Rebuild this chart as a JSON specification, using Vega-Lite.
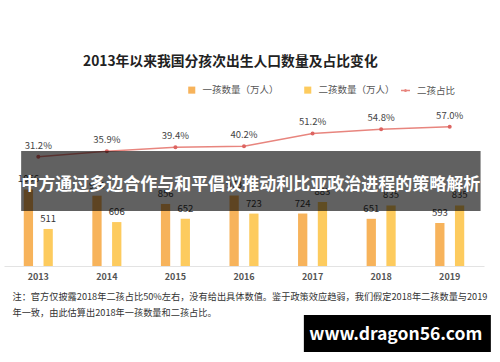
{
  "$schema": "https://vega.github.io/schema/vega-lite/v6.json",
  "width": 480,
  "height": 166,
  "autosize": {"type": "none"},
  "padding": {"left": 4, "top": 100, "right": 16, "bottom": 96},
  "background": "white",
  "config": {"font": "Noto Sans CJK SC", "view": {"stroke": null}},
  "title": {
    "text": "2013年以来我国分孩次出生人口数量及占比变化",
    "anchor": "start",
    "dx": 79,
    "offset": 16,
    "fontSize": 13.8,
    "fontWeight": "bold",
    "color": "#222222"
  },
  "datasets": {
    "bars": [
      {"year": "2013", "series": "一孩数量（万人）", "value": 1056},
      {"year": "2013", "series": "二孩数量（万人）", "value": 511},
      {"year": "2014", "series": "一孩数量（万人）", "value": 970},
      {"year": "2014", "series": "二孩数量（万人）", "value": 606},
      {"year": "2015", "series": "一孩数量（万人）", "value": 856},
      {"year": "2015", "series": "二孩数量（万人）", "value": 652},
      {"year": "2016", "series": "一孩数量（万人）", "value": 973},
      {"year": "2016", "series": "二孩数量（万人）", "value": 723},
      {"year": "2017", "series": "一孩数量（万人）", "value": 724},
      {"year": "2017", "series": "二孩数量（万人）", "value": 883},
      {"year": "2018", "series": "一孩数量（万人）", "value": 651},
      {"year": "2018", "series": "二孩数量（万人）", "value": 835},
      {"year": "2019", "series": "一孩数量（万人）", "value": 593},
      {"year": "2019", "series": "二孩数量（万人）", "value": 835}
    ],
    "share": [
      {"year": "2013", "pct": 0.312},
      {"year": "2014", "pct": 0.359},
      {"year": "2015", "pct": 0.394},
      {"year": "2016", "pct": 0.402},
      {"year": "2017", "pct": 0.512},
      {"year": "2018", "pct": 0.548},
      {"year": "2019", "pct": 0.570}
    ],
    "banner": [
      {"label": "中方通过多边合作与和平倡议推动利比亚政治进程的策略解析", "top": 0.361, "bottom": -0.155, "mid": 0.069}
    ],
    "mark": [
      {"label": "www.dragon56.com", "top": -1.049, "bottom": -1.367, "mid": -1.225}
    ]
  },
  "encoding": {
    "x": {
      "field": "year",
      "type": "ordinal",
      "scale": {"paddingInner": 0, "paddingOuter": 0},
      "axis": {
        "labelAngle": 0,
        "ticks": false,
        "domainColor": "#e3e3e3",
        "labelFontSize": 9,
        "labelFontWeight": "bold",
        "labelColor": "#555555",
        "labelPadding": 6,
        "title": [
          "注：官方仅披露2018年二孩占比50%左右，没有给出具体数值。鉴于政策效应趋弱，我们假定2018年二孩数量与2019",
          "年一致，由此估算出2018年一孩数量和二孩占比。"
        ],
        "titleAnchor": "start",
        "titleAlign": "left",
        "titleBaseline": "alphabetic",
        "titleX": 8,
        "titleY": 33,
        "titleFontSize": 9.2,
        "titleFontWeight": "normal",
        "titleColor": "#333333",
        "titleLineHeight": 16.5
      }
    }
  },
  "layer": [
    {
      "data": {"name": "bars"},
      "encoding": {
        "xOffset": {"field": "series", "type": "nominal", "scale": {"paddingInner": 0.53, "paddingOuter": 1.28}},
        "y": {"field": "value", "type": "quantitative", "scale": {"domain": [0, 2290], "nice": false, "zero": true}, "axis": null}
      },
      "layer": [
        {
          "mark": {"type": "bar"},
          "encoding": {
            "color": {
              "field": "series",
              "type": "nominal",
              "scale": {"domain": ["一孩数量（万人）", "二孩数量（万人）"], "range": ["#F7B35B", "#FDCB5E"]},
              "legend": {
                "title": null,
                "orient": "none",
                "direction": "horizontal",
                "legendX": 183,
                "legendY": -15,
                "symbolType": "square",
                "symbolSize": 50,
                "labelFontSize": 9.5,
                "labelColor": "#555555",
                "labelOffset": 6,
                "columnPadding": 24
              }
            }
          }
        },
        {
          "mark": {"type": "text", "baseline": "middle", "dy": -10, "fontSize": 9.5, "color": "#333333"},
          "encoding": {"text": {"field": "value", "type": "quantitative"}}
        }
      ]
    },
    {
      "encoding": {
        "y": {"field": "pct", "type": "quantitative", "scale": {"domain": [-0.628, 0.8], "nice": false, "zero": false}, "axis": null}
      },
      "layer": [
        {
          "data": {"name": "share"},
          "mark": {"type": "line", "strokeWidth": 1.5},
          "encoding": {
            "stroke": {
              "datum": "二孩占比",
              "type": "nominal",
              "scale": {"range": ["#E8857E"]},
              "legend": {
                "title": null,
                "orient": "none",
                "legendX": 396,
                "legendY": -15,
                "symbolType": "M-1,0L1,0M0.18,0A0.18,0.18 0 1,1 -0.18,0A0.18,0.18 0 1,1 0.18,0Z",
                "symbolSize": 81,
                "symbolStrokeWidth": 1.5,
                "symbolFillColor": "#E06A66",
                "labelFontSize": 9.5,
                "labelColor": "#555555",
                "labelOffset": 6
              }
            }
          }
        },
        {
          "data": {"name": "share"},
          "mark": {"type": "circle", "size": 16, "color": "#DD6461", "opacity": 1},
          "encoding": {"y": {"field": "pct", "type": "quantitative"}}
        },
        {
          "data": {"name": "share"},
          "mark": {"type": "text", "baseline": "middle", "dy": -11, "fontSize": 9.5, "color": "#444444"},
          "encoding": {"text": {"field": "pct", "type": "quantitative", "format": ".1%"}}
        },
        {
          "data": {"name": "banner"},
          "mark": {"type": "rect", "color": "#000000", "opacity": 0.62},
          "encoding": {
            "x": {"datum": "2013", "bandPosition": 0.25},
            "x2": {"datum": "2019", "bandPosition": 0.95},
            "y": {"field": "top", "type": "quantitative"},
            "y2": {"field": "bottom"}
          }
        },
        {
          "data": {"name": "banner"},
          "mark": {"type": "text", "baseline": "middle", "align": "center", "fontSize": 17, "fontWeight": "bold", "color": "#ffffff"},
          "encoding": {
            "x": {"datum": "2016", "bandPosition": 0.6},
            "y": {"field": "mid", "type": "quantitative"},
            "text": {"field": "label"}
          }
        },
        {
          "data": {"name": "mark"},
          "mark": {"type": "rect", "color": "#000000", "opacity": 1},
          "encoding": {
            "x": {"datum": "2017", "bandPosition": 0.373},
            "x2": {"datum": "2019", "bandPosition": 1.1},
            "y": {"field": "top", "type": "quantitative"},
            "y2": {"field": "bottom"}
          }
        },
        {
          "data": {"name": "mark"},
          "mark": {"type": "text", "baseline": "middle", "align": "center", "fontSize": 17.5, "fontWeight": "bold", "color": "#ffffff"},
          "encoding": {
            "x": {"datum": "2018", "bandPosition": 0.714},
            "y": {"field": "mid", "type": "quantitative"},
            "text": {"field": "label"}
          }
        }
      ]
    }
  ],
  "resolve": {"scale": {"y": "independent"}}
}
